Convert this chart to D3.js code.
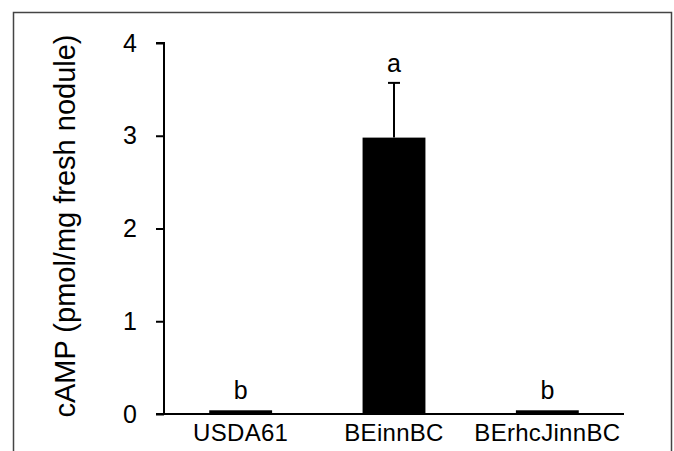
<!DOCTYPE html>
<html><head><meta charset="utf-8">
<script src="https://cdn.jsdelivr.net/npm/d3@7"></script>
<style>body{margin:0;background:#fff}svg{display:block}</style>
</head><body>
<svg id="c" width="674" height="451"></svg>
<script>
const categories = ["USDA61", "BEinnBC", "BErhcJinnBC"];
const values = [0.04, 2.98, 0.04];
const errors = [0, 0.59, 0];
const letters = ["b", "a", "b"];
const yTicks = [0, 1, 2, 3, 4];
const yTitle = "cAMP (pmol/mg fresh nodule)";

const svg = d3.select("#c");
const font = "Liberation Sans, Arial, sans-serif";
svg.append("rect").attr("x", 13.5).attr("y", 12.5).attr("width", 658).attr("height", 500)
  .attr("fill", "none").attr("stroke", "#444").attr("stroke-width", 1.5);

const x0 = 164, x1 = 624, y0 = 414, y1 = 43;
const x = d3.scaleBand().domain(categories).range([x0, x1]).paddingInner(0.59).paddingOuter(0.295);
const y = d3.scaleLinear().domain([0, 4]).range([y0, y1]);

// bars
svg.selectAll(".bar").data(categories).enter().append("rect")
  .attr("x", d => x(d)).attr("width", x.bandwidth())
  .attr("y", (d, i) => y(values[i])).attr("height", (d, i) => y(0) - y(values[i]))
  .attr("fill", "#000");

// error bars
categories.forEach((c, i) => {
  if (errors[i] > 0) {
    const cx = x(c) + x.bandwidth() / 2;
    svg.append("line").attr("x1", cx).attr("x2", cx).attr("y1", y(values[i])).attr("y2", y(values[i] + errors[i]))
      .attr("stroke", "#000").attr("stroke-width", 2);
    svg.append("line").attr("x1", cx - 6).attr("x2", cx + 6).attr("y1", y(values[i] + errors[i])).attr("y2", y(values[i] + errors[i]))
      .attr("stroke", "#000").attr("stroke-width", 2);
  }
});

// letters
svg.selectAll(".lt").data(categories).enter().append("text")
  .attr("x", d => x(d) + x.bandwidth() / 2)
  .attr("y", (d, i) => y(values[i] + errors[i]) - 11)
  .attr("text-anchor", "middle").attr("font-family", font).attr("font-size", 25).text((d, i) => letters[i]);

// y axis
const yAxis = svg.append("g").attr("transform", `translate(${x0},0)`)
  .call(d3.axisLeft(y).tickValues(yTicks).tickFormat(d3.format("d")).tickSize(8).tickPadding(19));
yAxis.select(".domain").attr("d", `M-8,${y1}H0V${y0}`).attr("stroke-width", 2);
yAxis.selectAll(".tick line").attr("stroke-width", 2);
yAxis.selectAll("text").attr("font-family", font).attr("font-size", 25).attr("fill", "#000");

// x axis
const xAxis = svg.append("g").attr("transform", `translate(0,${y0})`)
  .call(d3.axisBottom(x).tickSize(0).tickPadding(10));
xAxis.select(".domain").attr("d", `M${x0 - 8},0H${x1}`).attr("stroke-width", 2);
xAxis.selectAll("text").attr("font-family", font).attr("font-size", 24).attr("letter-spacing", "0.3px").attr("fill", "#000");

// title
svg.append("text").attr("transform", "translate(75,226) rotate(-90)")
  .attr("text-anchor", "middle").attr("font-family", font).attr("font-size", 29).text(yTitle);
</script>
</body></html>
